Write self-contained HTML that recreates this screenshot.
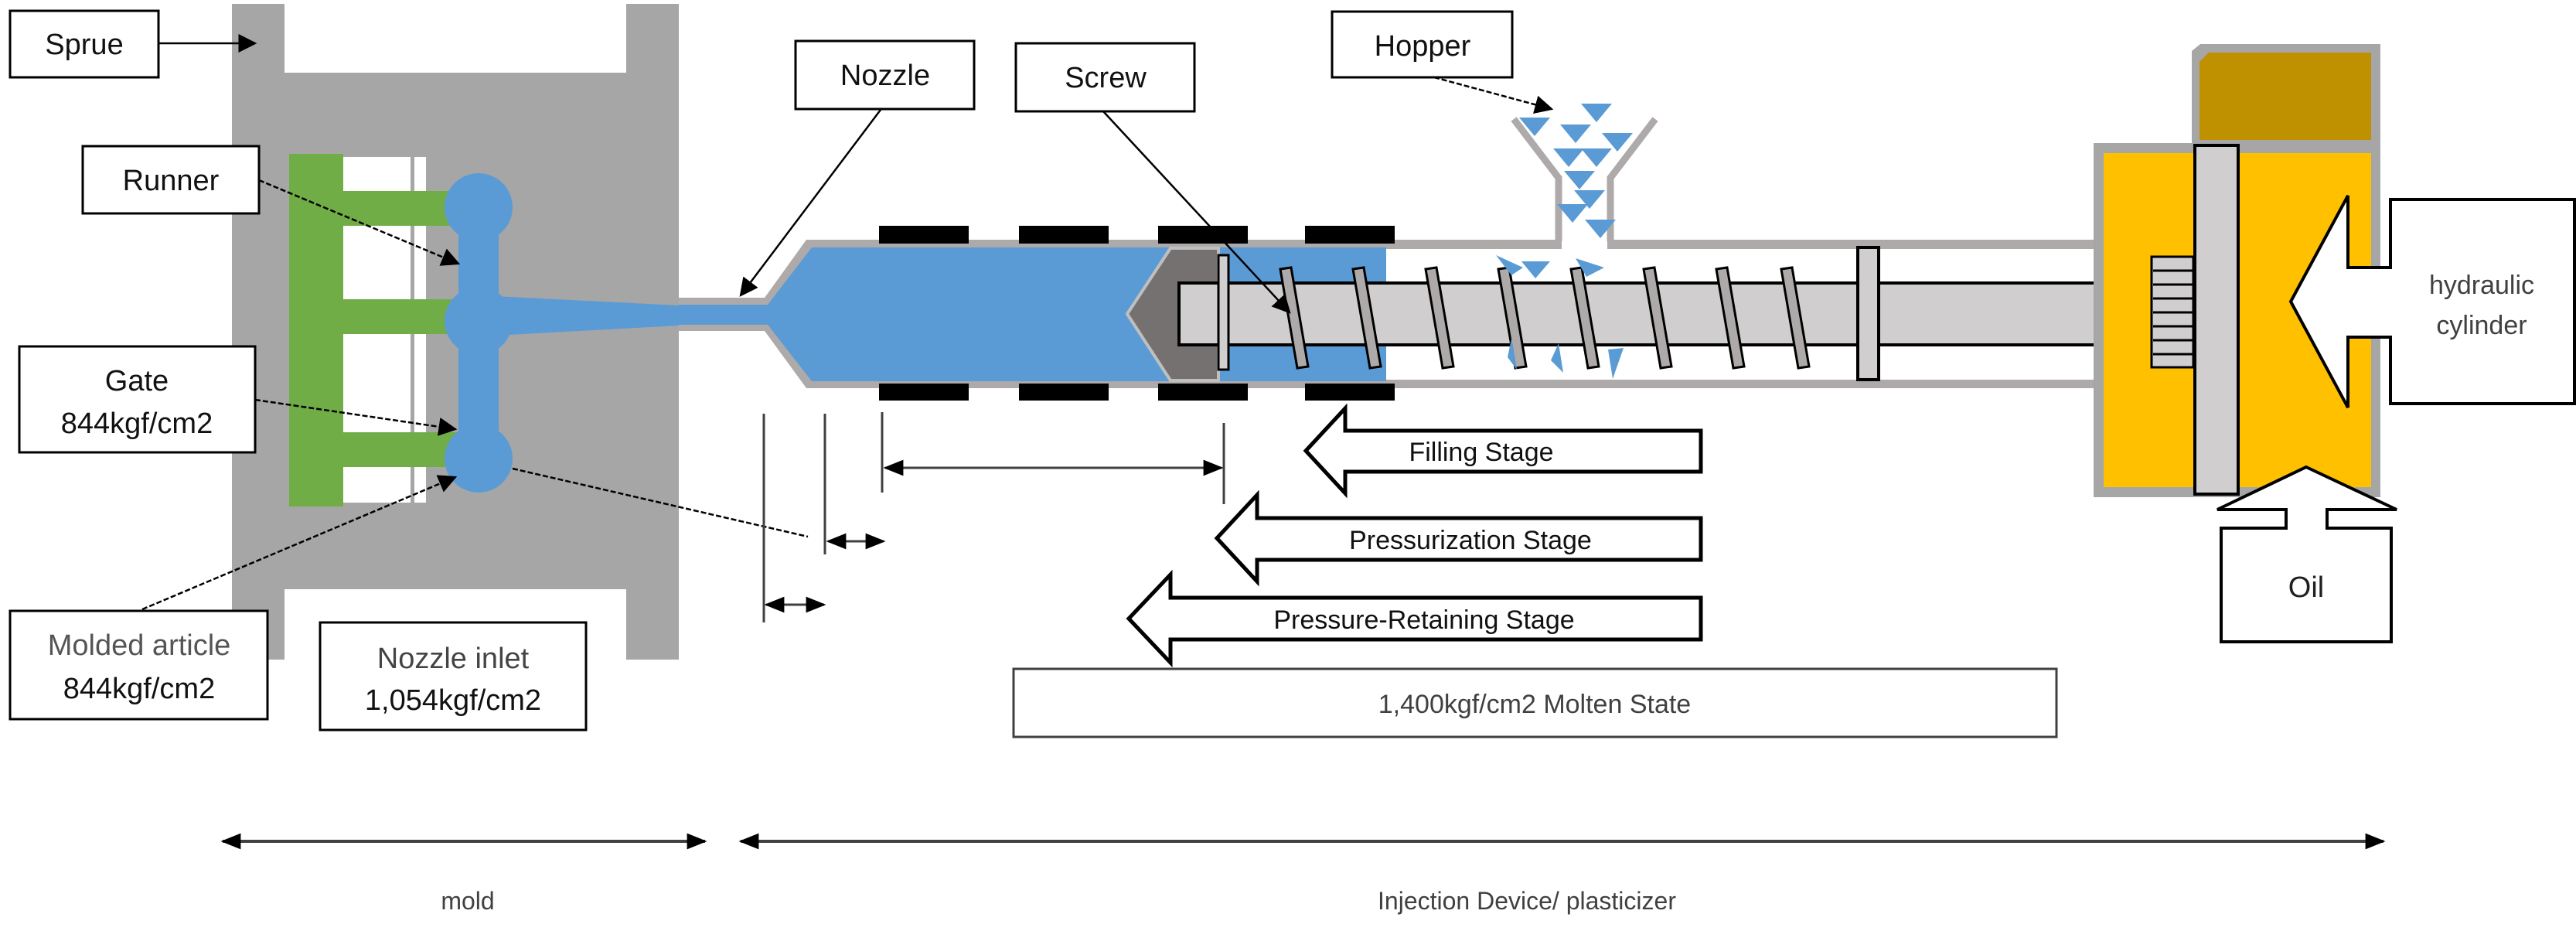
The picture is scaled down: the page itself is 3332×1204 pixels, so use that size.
<!DOCTYPE html>
<html><head><meta charset="utf-8"><style>
html,body{margin:0;padding:0;background:#fff}
svg{display:block}
text{font-family:"Liberation Sans",sans-serif}
</style></head><body>
<svg width="3332" height="1204" viewBox="0 0 3332 1204" xmlns="http://www.w3.org/2000/svg">
<defs>
<marker id="ah" viewBox="0 0 10 10" refX="9" refY="5" markerWidth="7" markerHeight="7" orient="auto-start-reverse" markerUnits="userSpaceOnUse"><path d="M0,0 L10,5 L0,10 z" fill="#000"/></marker>
<marker id="ab" viewBox="0 0 10 10" refX="9" refY="5" markerWidth="24" markerHeight="24" orient="auto-start-reverse" markerUnits="userSpaceOnUse"><path d="M0,0 L10,5 L0,10 z" fill="#000"/></marker>
<marker id="as" viewBox="0 0 10 10" refX="9" refY="5" markerWidth="26" markerHeight="26" orient="auto-start-reverse" markerUnits="userSpaceOnUse"><path d="M0,1 L10,5 L0,9 z" fill="#000"/></marker>
</defs>

<!-- Mold -->
<path d="M300,5 H368 V94 H810 V5 H878 V853 H810 V762 H368 V853 H300 Z" fill="#a6a6a6"/>
<rect x="374" y="199" width="70" height="456" fill="#70ad47"/>
<rect x="444" y="203" width="107" height="447" fill="#fff"/>
<rect x="531" y="203" width="5" height="447" fill="#a6a6a6"/>
<rect x="444" y="247" width="150" height="45" fill="#70ad47"/>
<rect x="444" y="387" width="150" height="45" fill="#70ad47"/>
<rect x="444" y="559" width="150" height="45" fill="#70ad47"/>
<!-- blue runner -->
<rect x="593" y="268" width="52" height="325" fill="#5b9bd5"/>
<circle cx="619" cy="268" r="44" fill="#5b9bd5"/>
<circle cx="619" cy="415" r="44" fill="#5b9bd5"/>
<circle cx="619" cy="593" r="44" fill="#5b9bd5"/>
<polygon points="640,383 878,395 878,421 640,434" fill="#5b9bd5"/>

<!-- Barrel -->
<polygon points="878,385 989,385 1043,310 2710,310 2710,502 1043,502 989,428 878,428" fill="#aeaaaa"/>
<polygon points="878,394 993,394 1050,320 1793,320 1793,493 1050,493 993,420 878,420" fill="#5b9bd5"/>
<rect x="1793" y="322" width="917" height="169" fill="#fff"/>
<rect x="2020" y="300" width="59" height="24" fill="#fff"/>
<!-- heaters -->
<g fill="#000">
<rect x="1137" y="292" width="116" height="23"/><rect x="1318" y="292" width="116" height="23"/><rect x="1498" y="292" width="116" height="23"/><rect x="1688" y="292" width="116" height="23"/>
<rect x="1137" y="496" width="116" height="22"/><rect x="1318" y="496" width="116" height="22"/><rect x="1498" y="496" width="116" height="22"/><rect x="1688" y="496" width="116" height="22"/>
</g>
<!-- check ring -->
<polygon points="1458,406 1514,321 1576,321 1576,492 1514,492" fill="#767171" stroke="#bfbfbf" stroke-width="4"/>
<!-- hopper -->
<polyline points="1958,154 2016,230 2016,312" fill="none" stroke="#aeaaaa" stroke-width="9"/>
<polyline points="2141,154 2083,230 2083,312" fill="none" stroke="#aeaaaa" stroke-width="9"/>
<!-- screw -->
<rect x="1525" y="366" width="1258" height="80" fill="#d0cece" stroke="#000" stroke-width="4"/>
<rect x="1576" y="330" width="13" height="148" fill="#d0cece" stroke="#000" stroke-width="3"/>
<g fill="#aeaaaa" stroke="#000" stroke-width="3">
<polygon points="1656,348 1670,346 1692,474 1678,476"/>
<polygon points="1750,348 1764,346 1786,474 1772,476"/>
<polygon points="1844,348 1858,346 1880,474 1866,476"/>
<polygon points="1938,348 1952,346 1974,474 1960,476"/>
<polygon points="2032,348 2046,346 2068,474 2054,476"/>
<polygon points="2126,348 2140,346 2162,474 2148,476"/>
<polygon points="2220,348 2234,346 2256,474 2242,476"/>
<polygon points="2304,348 2318,346 2340,474 2326,476"/>
</g>
<rect x="2403" y="320" width="27" height="171" fill="#d0cece" stroke="#000" stroke-width="4"/>
<!-- pellets -->
<g fill="#5b9bd5">
<polygon points="1965,152 2005,152 1985,176"/>
<polygon points="2045,134 2085,134 2065,158"/>
<polygon points="2018,161 2058,161 2038,185"/>
<polygon points="2072,172 2112,172 2092,196"/>
<polygon points="2009,192 2049,192 2029,216"/>
<polygon points="2045,192 2085,192 2065,216"/>
<polygon points="2023,221 2063,221 2043,245"/>
<polygon points="2036,246 2076,246 2056,270"/>
<polygon points="2014,264 2054,264 2034,288"/>
<polygon points="2050,284 2090,284 2070,308"/>
<polygon points="1935,330 1970,346 1955,356"/>
<polygon points="1968,338 2005,338 1986,360"/>
<polygon points="2038,334 2075,346 2052,358"/>
<polygon points="1955,438 1962,478 1950,462"/>
<polygon points="2016,444 2022,482 2006,466"/>
<polygon points="2080,452 2100,450 2086,490"/>
</g>

<!-- Injection cylinder -->
<polygon points="2835,66 2846,57 3079,57 3079,185 2835,185" fill="#a6a6a6"/>
<polygon points="2845,80 2857,68 3067,68 3067,181 2845,181" fill="#bf9000"/>
<rect x="2708" y="185" width="371" height="458" fill="#a6a6a6"/>
<rect x="2721" y="198" width="346" height="432" fill="#ffc000"/>
<rect x="2783" y="332" width="54" height="143" fill="#d0cece" stroke="#000" stroke-width="3"/>
<g stroke="#000" stroke-width="3"><line x1="2785" y1="350" x2="2837" y2="350"/><line x1="2785" y1="368" x2="2837" y2="368"/><line x1="2785" y1="386" x2="2837" y2="386"/><line x1="2785" y1="404" x2="2837" y2="404"/><line x1="2785" y1="422" x2="2837" y2="422"/><line x1="2785" y1="440" x2="2837" y2="440"/><line x1="2785" y1="458" x2="2837" y2="458"/></g>
<rect x="2839" y="188" width="56" height="451" fill="#d0cece" stroke="#000" stroke-width="4"/>
<!-- hydraulic arrow -->
<polygon points="2963,390 3037,253 3037,346 3092,346 3092,258 3330,258 3330,522 3092,522 3092,436 3037,436 3037,527" fill="#fff" stroke="#000" stroke-width="4"/>
<text x="3210" y="380" font-size="34" fill="#404040" text-anchor="middle">hydraulic</text>
<text x="3210" y="432" font-size="34" fill="#404040" text-anchor="middle">cylinder</text>
<!-- oil arrow -->
<polygon points="2983,604 3100,659 3010,659 3010,683 3093,683 3093,830 2873,830 2873,683 2957,683 2957,659 2868,659" fill="#fff" stroke="#000" stroke-width="4"/>
<text x="2983" y="772" font-size="38" fill="#202020" text-anchor="middle">Oil</text>

<!-- labels -->
<g fill="#fff" stroke="#000" stroke-width="3">
<rect x="13" y="14" width="192" height="86"/>
<rect x="107" y="189" width="228" height="87"/>
<rect x="25" y="448" width="305" height="137"/>
<rect x="13" y="790" width="333" height="140"/>
<rect x="414" y="805" width="344" height="139"/>
<rect x="1029" y="53" width="231" height="88"/>
<rect x="1314" y="56" width="231" height="88"/>
<rect x="1723" y="15" width="233" height="85"/>
</g>
<g font-size="38" fill="#111" text-anchor="middle">
<text x="109" y="70">Sprue</text>
<text x="221" y="246">Runner</text>
<text x="177" y="505">Gate</text>
<text x="177" y="560">844kgf/cm2</text>
<text x="180" y="847" fill="#555">Molded article</text>
<text x="180" y="903">844kgf/cm2</text>
<text x="586" y="864" fill="#444">Nozzle inlet</text>
<text x="586" y="918">1,054kgf/cm2</text>
<text x="1145" y="110">Nozzle</text>
<text x="1430" y="113">Screw</text>
<text x="1840" y="72">Hopper</text>
</g>
<!-- leaders -->
<g stroke="#000" stroke-width="2.5" fill="none">
<line x1="205" y1="56" x2="330" y2="56" marker-end="url(#ab)"/>
<line x1="335" y1="233" x2="593" y2="341" stroke-dasharray="7,3" marker-end="url(#ab)"/>
<line x1="330" y1="517" x2="589" y2="555" stroke-dasharray="7,3" marker-end="url(#ab)"/>
<line x1="184" y1="788" x2="589" y2="617" stroke-dasharray="7,3" marker-end="url(#ab)"/>
<line x1="663" y1="606" x2="1045" y2="694" stroke-dasharray="7,3"/>
<line x1="1139" y1="142" x2="958" y2="382" marker-end="url(#ab)"/>
<line x1="1427" y1="144" x2="1668" y2="404" marker-end="url(#ab)"/>
<line x1="1855" y1="100" x2="2007" y2="141" stroke-dasharray="7,3" marker-end="url(#ab)"/>
</g>
<!-- dimension lines -->
<g stroke="#404040" stroke-width="3" fill="none">
<line x1="988" y1="535" x2="988" y2="805"/>
<line x1="1067" y1="535" x2="1067" y2="717"/>
<line x1="1141" y1="533" x2="1141" y2="637"/>
<line x1="1583" y1="547" x2="1583" y2="652"/>
<line x1="1071" y1="700" x2="1143" y2="700" marker-start="url(#as)" marker-end="url(#as)"/>
<line x1="991" y1="782" x2="1066" y2="782" marker-start="url(#as)" marker-end="url(#as)"/>
<line x1="1145" y1="605" x2="1580" y2="605" marker-start="url(#as)" marker-end="url(#as)"/>
<line x1="288" y1="1088" x2="912" y2="1088" stroke-width="4" marker-start="url(#as)" marker-end="url(#as)"/>
<line x1="958" y1="1088" x2="3083" y2="1088" stroke-width="4" marker-start="url(#as)" marker-end="url(#as)"/>
</g>
<!-- stage arrows -->
<g fill="#fff" stroke="#000" stroke-width="5">
<polygon points="1689,583 1740,528 1740,557 2200,557 2200,610 1740,610 1740,638"/>
<polygon points="1574,696 1626,640 1626,670 2200,670 2200,724 1626,724 1626,752"/>
<polygon points="1460,800 1514,743 1514,773 2200,773 2200,827 1514,827 1514,857"/>
</g>
<g font-size="34" fill="#111" text-anchor="middle">
<text x="1916" y="596">Filling Stage</text>
<text x="1902" y="710">Pressurization Stage</text>
<text x="1842" y="813">Pressure-Retaining Stage</text>
</g>
<rect x="1311" y="865" width="1349" height="88" fill="#fff" stroke="#404040" stroke-width="3"/>
<text x="1985" y="922" font-size="34" fill="#404040" text-anchor="middle">1,400kgf/cm2 Molten State</text>
<text x="605" y="1176" font-size="32" fill="#404040" text-anchor="middle">mold</text>
<text x="1975" y="1176" font-size="32" fill="#404040" text-anchor="middle">Injection Device/ plasticizer</text>
</svg>
</body></html>
